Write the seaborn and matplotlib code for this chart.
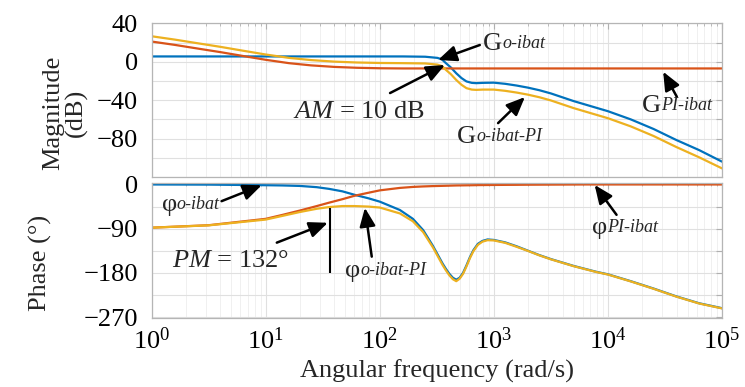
import matplotlib.pyplot as plt
import matplotlib.ticker as mticker
import seaborn as sns

# Bode data: frequency (rad/s), magnitude (dB), phase (deg)
mag_freq = [1, 1.6, 2.6, 4, 6.3, 10, 16, 25, 40, 63, 100, 160, 250, 320, 350, 380,
            420, 468, 520, 575, 640, 700, 800, 1000, 1259, 1585, 1995, 2512, 3162,
            3981, 5012, 6310, 7943, 10000, 15849, 25119, 39811, 63096, 100000]
mag_plant = [5.5, 5.5, 5.5, 5.5, 5.5, 5.5, 5.5, 5.5, 5.5, 5.5, 5.5, 5.5, 5.2, 4.0, 2.5,
             -1.5, -6, -12, -17, -20.5, -22, -22.3, -22, -21.8, -23, -24.8, -27,
             -29.7, -33, -37, -41, -44.5, -48, -51.5, -60, -70, -81.5, -92, -104]
mag_pi = [21, 17.5, 13.5, 10, 6, 2, -1.5, -3.8, -5.4, -6.3, -6.8, -7, -7, -7, -7, -7,
          -7, -7, -7, -7, -7, -7, -7, -7, -7, -7, -7, -7, -7, -7, -7, -7, -7, -7, -7,
          -7, -7, -7, -7]
mag_loop = [26.5, 23, 19, 15.5, 11.5, 7.5, 4, 1.7, 0.1, -0.8, -1.3, -1.5, -1.8, -3.0,
            -4.5, -8.5, -13, -19, -24, -27.5, -29, -29.3, -29, -29, -30.3, -32.1,
            -34.3, -37, -40.3, -44.3, -48.3, -51.8, -55.3, -58.8, -67.3, -77.3, -88.8,
            -99.5, -111]

phase_freq = [1, 3.16, 10, 14, 20, 28, 36, 47, 60, 79, 100, 150, 195, 240, 292, 355,
              380, 407, 437, 468, 501, 537, 575, 617, 661, 724, 794, 881, 1000, 1259,
              1585, 1995, 2512, 3162, 3981, 5012, 6310, 7943, 10000, 15849, 25119,
              39811, 63096, 100000]
phase_plant = [0, -0.3, -1.5, -2, -3, -5.5, -9, -14, -21, -28, -35, -52, -70, -93, -125,
               -161, -172, -182, -190, -194, -190, -180, -165, -148, -134, -121, -115,
               -112, -113, -118, -126, -135, -144, -152, -159, -166, -172, -178, -183,
               -197, -212, -228, -242, -252]
phase_pi = [-88, -83, -70, -62, -53, -44, -37, -30, -23, -17, -12, -7, -5, -4, -3.3,
            -2.8, -2.6, -2.4, -2.2, -2, -1.9, -1.8, -1.7, -1.6, -1.5, -1.3, -1.2, -1.1,
            -1, -0.8, -0.7, -0.5, -0.4, -0.3, -0.2, -0.1, 0, 0, 0, 0, 0, 0, 0, 0]
phase_loop = [-88, -83.3, -71.5, -64, -56, -49.5, -46, -44, -44, -45, -47, -59, -75, -97,
              -128, -164, -175, -185, -193, -197, -192, -182, -167, -150, -136, -123,
              -116.5, -113.5, -114, -119, -127, -135.5, -144.5, -152.5, -159.5, -166.5,
              -172.5, -178.5, -183.5, -197.5, -212.5, -228.5, -242.5, -252.5]

mag_ticks = [-120, -100, -80, -60, -40, -20, 0, 20, 40]
mag_ticklabels = ["", "", "\u221280", "", "\u221240", "", "0", "", "40"]
phase_ticks = [-270, -225, -180, -135, -90, -45, 0]
phase_ticklabels = ["\u2212270", "", "\u2212180", "", "\u221290", "", "0"]

PM_FREQ = 36.5
PM = 132

BLUE = "#0072BD"
RED = "#D95319"
YELLOW = "#EDB120"

sns.set_style("whitegrid")
plt.rcParams["font.family"] = ["Liberation Serif", "DejaVu Serif"]
plt.rcParams["font.size"] = 19
plt.rcParams["mathtext.fontset"] = "custom"
plt.rcParams["mathtext.rm"] = "Liberation Serif"
plt.rcParams["mathtext.it"] = "Liberation Serif:italic"

ARROW = dict(arrowstyle="-|>,head_length=0.7,head_width=0.3", color="black",
             lw=1.8, mutation_scale=16, shrinkA=0, shrinkB=0)


def style_axis(ax):
    ax.set_xscale("log")
    ax.set_xlim(1, 1e5)
    ax.xaxis.set_major_locator(mticker.LogLocator(base=10, numticks=10))
    ax.xaxis.set_minor_locator(mticker.LogLocator(base=10, subs=range(2, 10), numticks=10))
    ax.grid(True, which="major", color="#e0e0e0", lw=0.8)
    ax.grid(True, which="minor", axis="x", color="#eeeeee", lw=0.6)
    ax.tick_params(which="both", direction="in", top=True, right=True,
                   color="#b0b0b0", labelcolor="black")
    ax.tick_params(which="major", length=4)
    ax.tick_params(which="minor", length=2)
    ax.tick_params(axis="y", pad=10)
    ax.tick_params(axis="x", pad=7)
    for spine in ax.spines.values():
        spine.set_color("#b5b5b5")
        spine.set_linewidth(0.9)


def add_label(ax, text_xy, tail, tip, main, sub=None):
    ax.annotate("", xy=tip, xytext=tail, arrowprops=ARROW)
    t = ax.text(text_xy[0], text_xy[1], main, va="center", ha="left")
    if sub:
        ax.annotate(sub, xy=(1.0, 0.14), xycoords=t, va="bottom", ha="left",
                    fontsize=13, style="italic")


fig = plt.figure(figsize=(7.45, 3.87), dpi=100)
ax_mag = fig.add_axes([0.2036, 0.5426, 0.7655, 0.3972])
ax_ph = fig.add_axes([0.2036, 0.1783, 0.7655, 0.3501])

for y, color in [(mag_plant, BLUE), (mag_pi, RED), (mag_loop, YELLOW)]:
    sns.lineplot(x=mag_freq, y=y, ax=ax_mag, color=color, lw=1.6)
for y, color in [(phase_plant, BLUE), (phase_pi, RED), (phase_loop, YELLOW)]:
    sns.lineplot(x=phase_freq, y=y, ax=ax_ph, color=color, lw=1.6)

style_axis(ax_mag)
style_axis(ax_ph)

ax_mag.set_ylim(-120, 40)
ax_mag.yaxis.set_major_locator(mticker.FixedLocator(mag_ticks))
ax_mag.yaxis.set_major_formatter(mticker.FixedFormatter(mag_ticklabels))
ax_mag.xaxis.set_major_formatter(mticker.NullFormatter())
ax_mag.set_ylabel("Magnitude\n(dB)", linespacing=1.0)
ax_mag.yaxis.set_label_coords(-0.112, 0.42)

ax_ph.set_ylim(-272, 4)
ax_ph.yaxis.set_major_locator(mticker.FixedLocator(phase_ticks))
ax_ph.yaxis.set_major_formatter(mticker.FixedFormatter(phase_ticklabels))
ax_ph.set_ylabel("Phase (\u00b0)")
ax_ph.yaxis.set_label_coords(-0.175, 0.41)
ax_ph.set_xlabel("Angular frequency (rad/s)", labelpad=4)

# magnitude annotations
add_label(ax_mag, (801, 18.4), (753, 17.4), (324, 1.8), "G", "o-ibat")
add_label(ax_mag, (17.3, -52.5), (123, -32.6), (372, -3.4), "$\\mathit{AM}$ = 10 dB")
add_label(ax_mag, (474, -78.4), (1089, -63.9), (1871, -36.8), "G", "o-ibat-PI")
add_label(ax_mag, (19800, -46.1), (40200, -36.5), (30500, -10.4), "G", "PI-ibat")

# phase annotations
ax_ph.vlines(PM_FREQ, -180 + PM, -180, color="black", lw=1.5)
add_label(ax_ph, (1.22, -41.5), (4.1, -34), (9.2, -1.6), "\u03c6", "o-ibat")
add_label(ax_ph, (1.5, -155), (12.5, -118.5), (35, -78), f"$\\mathit{{PM}}$ = {PM}\u00b0")
add_label(ax_ph, (49.4, -177), (85, -147), (74, -47.6), "\u03c6", "o-ibat-PI")
add_label(ax_ph, (7200, -88), (11900, -61.8), (7650, -1), "\u03c6", "PI-ibat")

fig.savefig("out.png", dpi=100)
plt.close(fig)
